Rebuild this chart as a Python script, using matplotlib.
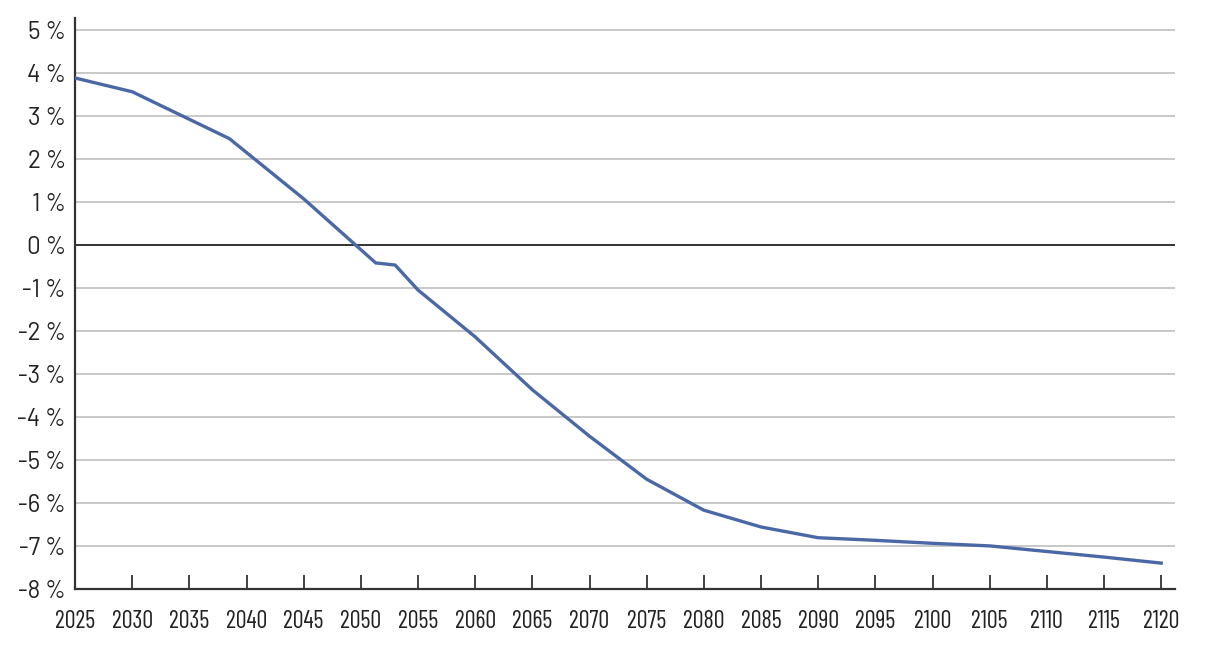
import numpy as np
import matplotlib
matplotlib.use("Agg")
from matplotlib import pyplot as plt
from matplotlib import font_manager

# values (percent)
years = [2025, 2030, 2038.5, 2045, 2051.3, 2053, 2055, 2060, 2065, 2070,
         2075, 2080, 2085, 2090, 2095, 2100, 2105, 2110, 2115, 2120]
values = [3.88, 3.56, 2.47, 1.07, -0.42, -0.47, -1.05, -2.14, -3.37, -4.45,
          -5.45, -6.17, -6.56, -6.81, -6.87, -6.94, -7.0, -7.13, -7.26, -7.40]

x_ticks = list(range(2025, 2121, 5))
y_ticks = list(range(-8, 6))

names = {f.name for f in font_manager.fontManager.ttflist}
narrow = "Barlow Condensed" if "Barlow Condensed" in names else "DejaVu Sans"
regular = "Barlow" if "Barlow" in names else "DejaVu Sans"

fig = plt.figure(figsize=(12.1, 6.58), dpi=100)
ax = fig.add_axes([0.062, 0.105, 0.909, 0.868])

for y in y_ticks:
    if y == 0:
        ax.axhline(0, color="#222222", lw=1.3, zorder=2)
    elif y != -8:
        ax.axhline(y, color="#c4c4c4", lw=1.3, zorder=1)

ax.plot(years, values, color="#4b68a6", lw=2.4, zorder=3, solid_joinstyle="miter")

ax.set_xlim(2025, 2121.2)
ax.set_ylim(-8, 5.28)

ax.set_xticks(x_ticks)
ax.set_xticklabels([str(x) for x in x_ticks], family=narrow, fontsize=17.5,
                   color="#222222")
ax.set_yticks(y_ticks)
ax.set_yticklabels([f"{y} %" for y in y_ticks], family=regular, fontsize=17.5,
                   color="#222222")

ax.tick_params(axis="x", direction="in", length=10, width=1.3, color="#333333", pad=15)
ax.tick_params(axis="y", length=0, pad=6.5)

for side in ["top", "right"]:
    ax.spines[side].set_visible(False)
for side in ["left", "bottom"]:
    ax.spines[side].set_color("#333333")
    ax.spines[side].set_linewidth(1.6)

fig.savefig("out.png", dpi=100)
